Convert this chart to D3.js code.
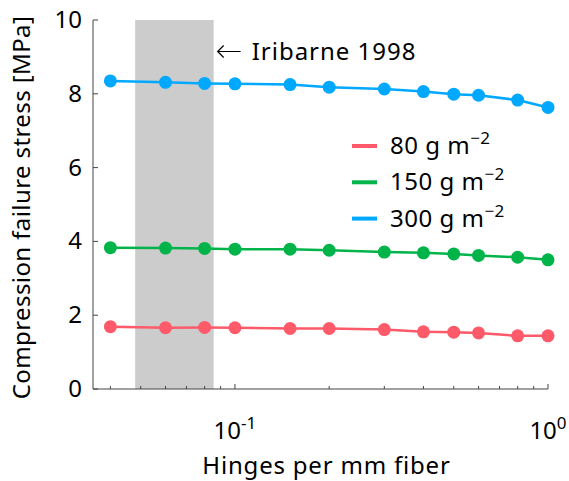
<!DOCTYPE html>
<html>
<head>
<meta charset="utf-8">
<script src="https://cdn.jsdelivr.net/npm/d3@7"></script>
<style>
  body { margin: 0; background: #fff; }
</style>
</head>
<body>
<svg id="chart" width="569" height="481" font-family="'Noto Sans', sans-serif"></svg>
<script>
// hinges per mm fiber
const hinges = [0.04, 0.06, 0.08, 0.1, 0.15, 0.2, 0.3, 0.4, 0.5, 0.6, 0.8, 1.0];
// compression failure stress [MPa] per grammage
const stress80 = [1.69, 1.66, 1.67, 1.66, 1.64, 1.64, 1.61, 1.55, 1.54, 1.52, 1.44, 1.44];
const stress150 = [3.83, 3.82, 3.81, 3.79, 3.79, 3.76, 3.71, 3.69, 3.66, 3.62, 3.57, 3.50];
const stress300 = [8.35, 8.31, 8.28, 8.27, 8.25, 8.18, 8.13, 8.06, 7.99, 7.96, 7.83, 7.63];
const seriesNames = ["80", "150", "300"];
const seriesColors = ["#ff5a6a", "#00b44a", "#00a8ff"];
const yTicks = [0, 2, 4, 6, 8, 10];
const xMajorTicks = [0.1, 1];
const xMinorTicks = [0.04, 0.05, 0.06, 0.07, 0.08, 0.09, 0.2, 0.3, 0.4, 0.5, 0.6, 0.7, 0.8, 0.9];
const shadeRange = [0.048, 0.0855];
const annotation = "Iribarne 1998";

const series = [stress80, stress150, stress300];

const svg = d3.select("#chart");
const margin = { left: 93, right: 21, top: 20, bottom: 92 };
const W = 569, H = 481;

const x = d3.scaleLog().domain([0.0352, 1]).range([margin.left, W - margin.right]);
const y = d3.scaleLinear().domain([0, 10]).range([H - margin.bottom, margin.top]);

// shaded region
svg.append("rect")
  .attr("x", x(shadeRange[0]))
  .attr("width", x(shadeRange[1]) - x(shadeRange[0]))
  .attr("y", y(10))
  .attr("height", y(0) - y(10))
  .attr("fill", "#cccccc");

// annotation arrow + label
const ax = x(shadeRange[1]) + 3;
svg.append("path")
  .attr("d", `M${ax + 24},51.5 H${ax + 1} M${ax + 7},45.5 L${ax + 1},51.5 L${ax + 7},57.5`)
  .attr("fill", "none")
  .attr("stroke", "#000")
  .attr("stroke-width", 1.2);
svg.append("text")
  .attr("x", ax + 35)
  .attr("y", 60)
  .attr("font-size", 24)
  .attr("letter-spacing", 1)
  .text(annotation);

// axes
const gx = svg.append("g").attr("transform", `translate(0,${y(0)})`);
gx.append("line").attr("x1", x.range()[0]).attr("x2", x.range()[1]).attr("stroke", "#444").attr("stroke-width", 1);
gx.selectAll(".major").data(xMajorTicks).enter().append("line")
  .attr("x1", d => x(d)).attr("x2", d => x(d)).attr("y1", 0).attr("y2", -5)
  .attr("stroke", "#444");
gx.selectAll(".minor").data(xMinorTicks).enter().append("line")
  .attr("x1", d => x(d)).attr("x2", d => x(d)).attr("y1", 0).attr("y2", -3)
  .attr("stroke", "#444");
const xl = gx.selectAll(".lbl").data(xMajorTicks).enter().append("text")
  .attr("x", d => x(d)).attr("y", 50)
  .attr("text-anchor", "middle")
  .attr("font-size", 24);
xl.append("tspan").text("10");
xl.append("tspan").attr("dy", -10).attr("font-size", 17).text(d => Math.round(Math.log10(d)));

const gy = svg.append("g").attr("transform", `translate(${margin.left},0)`);
gy.append("line").attr("y1", y(0)).attr("y2", y(10)).attr("stroke", "#444");
gy.selectAll(".tick").data(yTicks).enter().append("line")
  .attr("y1", d => y(d)).attr("y2", d => y(d)).attr("x1", 0).attr("x2", 5)
  .attr("stroke", "#444");
gy.selectAll(".lbl").data(yTicks).enter().append("text")
  .attr("x", -11).attr("y", d => y(d) + 8)
  .attr("text-anchor", "end")
  .attr("font-size", 24)
  .text(d => d);

svg.append("text")
  .attr("transform", `translate(30,${(y(0) + y(10)) / 2 + 3}) rotate(-90)`)
  .attr("text-anchor", "middle")
  .attr("font-size", 24)
  .attr("letter-spacing", 0.4)
  .text("Compression failure stress [MPa]");

svg.append("text")
  .attr("x", (x.range()[0] + x.range()[1]) / 2 + 6)
  .attr("y", 474)
  .attr("text-anchor", "middle")
  .attr("font-size", 24)
  .attr("letter-spacing", 0.8)
  .text("Hinges per mm fiber");

// lines and markers
const line = d3.line().x(d => x(d[0])).y(d => y(d[1]));
series.forEach((vals, i) => {
  const pts = hinges.map((h, j) => [h, vals[j]]);
  svg.append("path").datum(pts)
    .attr("d", line)
    .attr("fill", "none")
    .attr("stroke", seriesColors[i])
    .attr("stroke-width", 2.5);
  svg.selectAll(null).data(pts).enter().append("circle")
    .attr("cx", d => x(d[0])).attr("cy", d => y(d[1]))
    .attr("r", 6.5)
    .attr("fill", seriesColors[i]);
});

// legend
const legend = svg.append("g").attr("transform", "translate(352,146)");
seriesNames.forEach((name, i) => {
  const g = legend.append("g").attr("transform", `translate(0,${i * 36.3})`);
  g.append("line").attr("x1", 0).attr("x2", 25).attr("stroke", seriesColors[i]).attr("stroke-width", 4);
  const t = g.append("text").attr("x", 38).attr("y", 8).attr("font-size", 24).attr("letter-spacing", 0.5);
  t.append("tspan").text(name + " g m");
  t.append("tspan").attr("dy", -10).attr("font-size", 17).text("\u22122");
});
</script>
</body>
</html>
